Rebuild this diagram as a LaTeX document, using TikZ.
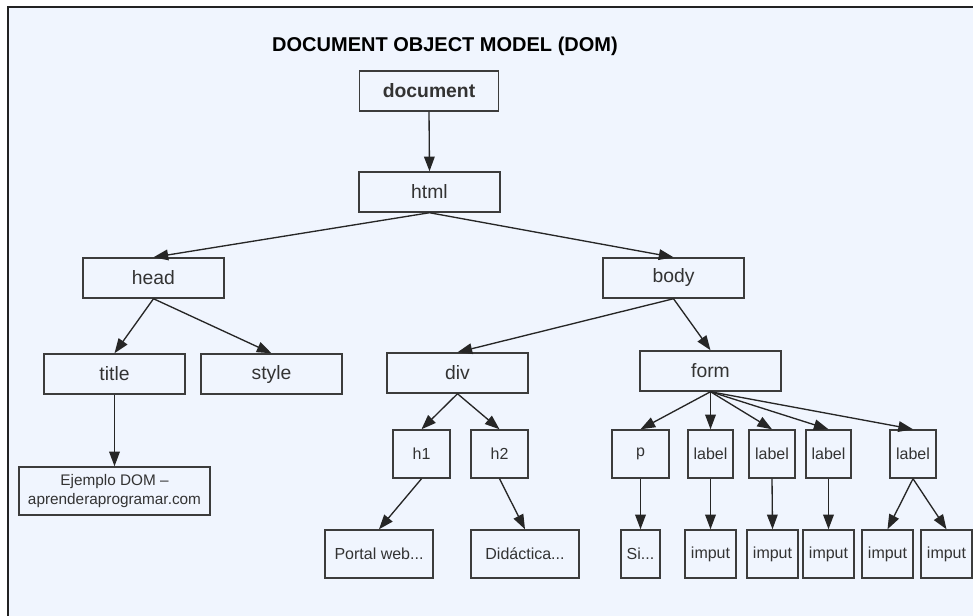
\documentclass[tikz,border=0pt]{standalone}
\usepackage{fontspec}
\setmainfont{Liberation Sans}
\usetikzlibrary{arrows.meta}
\definecolor{bg}{HTML}{F0F5FE}
\definecolor{ln}{HTML}{3C3C3C}
\definecolor{tx}{HTML}{333333}
\definecolor{frame}{HTML}{222222}
\begin{document}
\begin{tikzpicture}[x=0.75pt,y=-0.75pt,
  bx/.style 2 args={draw=ln, line width=1.1pt, fill=bg, minimum width=#1*0.75pt, minimum height=#2*0.75pt, inner sep=0pt, text=tx, font=\fontsize{14.5}{17}\selectfont},
  sm/.style={font=\fontsize{12}{14}\selectfont},
  arr/.style={draw=black!85, line width=1pt, -{Triangle[length=11pt,width=8pt]}}]
\useasboundingbox (0,0) rectangle (973,616);
\fill[white] (0,0) rectangle (973,616);
\fill[bg] (8,7) rectangle (973,616);
\draw[frame, line width=2pt] (8,616) -- (8,7) -- (973,7);

\node[text=black, font=\bfseries\fontsize{15}{18}\selectfont] (ttl) at (445,46) {DOCUMENT OBJECT MODEL (DOM)};

\node[bx={139}{40}, font=\bfseries\fontsize{14.5}{17}\selectfont] (document) at (429,91) {document};
\node[bx={141}{40}] (html) at (429.5,192) {html};
\node[bx={141}{40}] (head) at (153.5,278) {head};
\node[bx={141}{40}] (body) at (673.5,278) {body};
\node[bx={141}{40}] (title) at (114.5,374) {title};
\node[bx={141}{40}] (style) at (271.5,374) {style};
\node[bx={141}{40}] (div) at (457.5,373) {div};
\node[bx={141}{40}] (form) at (710.5,371) {form};
\node[bx={191}{48}, align=center, font=\fontsize{11.5}{14}\selectfont] (ej) at (114.5,491) {Ejemplo DOM –\\aprenderaprogramar.com};
\node[bx={57}{48}, sm] (h1) at (421.5,454) {h1};
\node[bx={57}{48}, sm] (h2) at (499.5,454) {h2};
\node[bx={108}{48}, sm] (portal) at (379,554) {Portal web...};
\node[bx={108}{48}, sm] (dida) at (525,554) {Didáctica...};
\node[bx={57}{48}, sm] (p) at (640.5,454) {p};
\node[bx={45}{48}, sm] (l1) at (710.5,454) {label};
\node[bx={46}{48}, sm] (l2) at (772,454) {label};
\node[bx={45}{48}, sm] (l3) at (828.5,454) {label};
\node[bx={46}{48}, sm] (l4) at (913,454) {label};
\node[bx={39}{48}, sm] (si) at (640.5,554) {Si...};
\node[bx={51}{48}, sm] (i1) at (710.5,554) {imput};
\node[bx={51}{48}, sm] (i2) at (772.5,554) {imput};
\node[bx={51}{48}, sm] (i3) at (828.5,554) {imput};
\node[bx={51}{48}, sm] (i4) at (887.5,554) {imput};
\node[bx={51}{48}, sm] (i5) at (946.5,554) {imput};

\draw[arr] (document.south) -- (html.north);
\draw[arr] (html.south) -- (head.north);
\draw[arr] (html.south) -- (body.north);
\draw[arr] (head.south) -- (title.north);
\draw[arr] (head.south) -- (style.north);
\draw[arr] (title.south) -- (ej.north);
\draw[arr] (body.south) -- (div.north);
\draw[arr] (body.south) -- (form.north);
\draw[arr] (div.south) -- (h1.north);
\draw[arr] (div.south) -- (h2.north);
\draw[arr] (h1.south) -- (portal.north);
\draw[arr] (h2.south) -- (dida.north);
\draw[arr] (form.south) -- (p.north);
\draw[arr] (form.south) -- (l1.north);
\draw[arr] (form.south) -- (l2.north);
\draw[arr] (form.south) -- (l3.north);
\draw[arr] (form.south) -- (l4.north);
\draw[arr] (p.south) -- (si.north);
\draw[arr] (l1.south) -- (i1.north);
\draw[arr] (l2.south) -- (i2.north);
\draw[arr] (l3.south) -- (i3.north);
\draw[arr] (l4.south) -- (i4.north);
\draw[arr] (l4.south) -- (i5.north);
\end{tikzpicture}
\end{document}
